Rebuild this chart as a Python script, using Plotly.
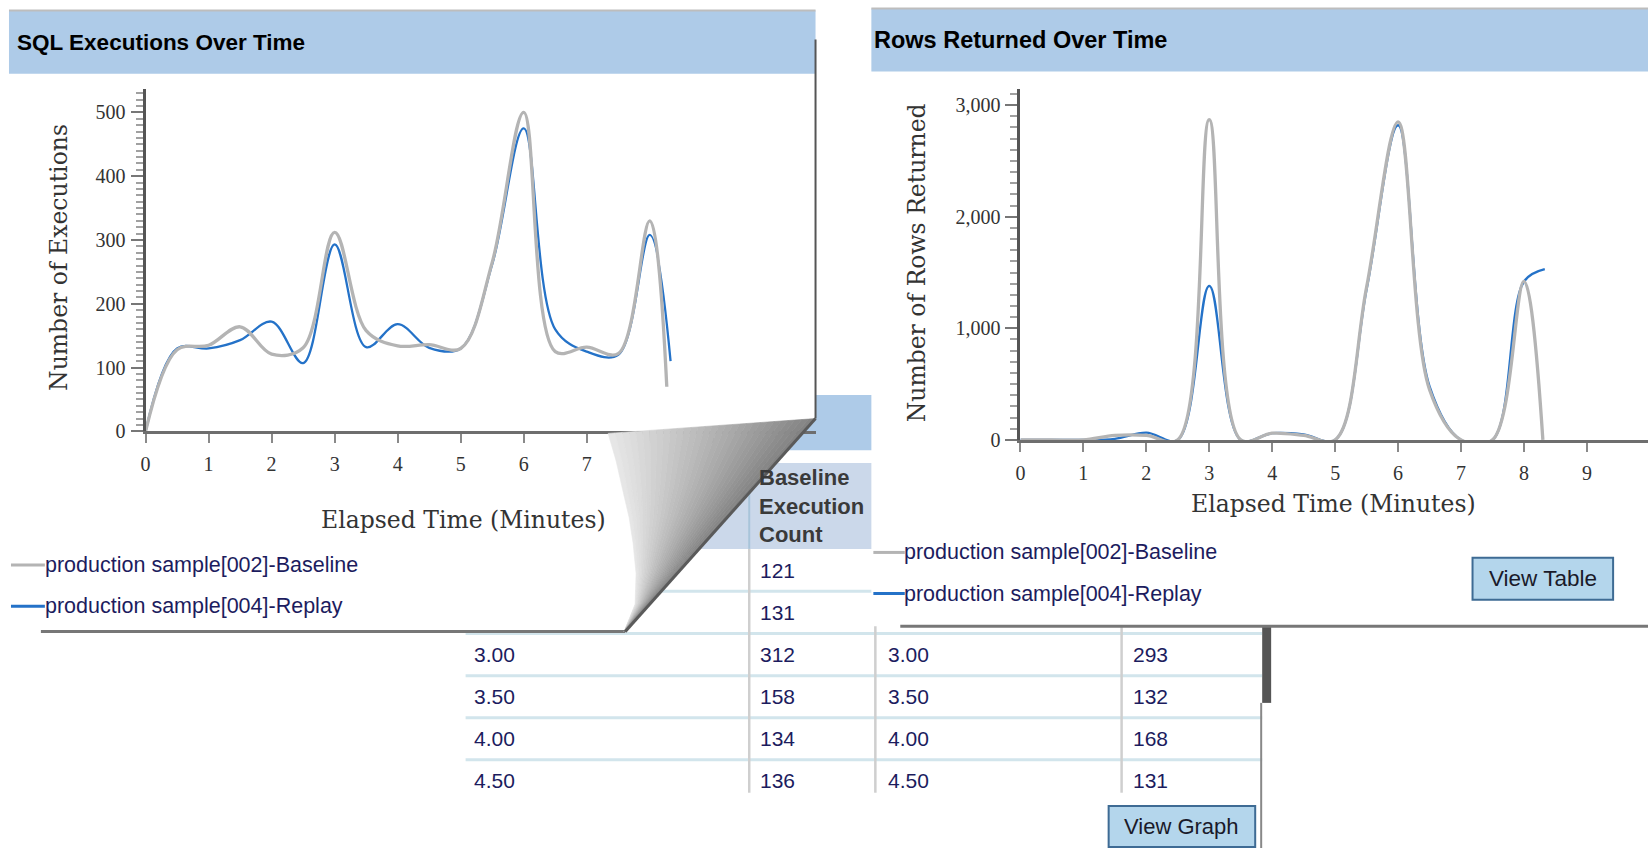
import plotly.graph_objects as go

W, H = 1648, 859

# ---------------- data ----------------
exec_time_base = [0, 0.5, 1.0, 1.5, 2.0, 2.5, 3.0, 3.5, 4.0, 4.5, 5.0, 5.5, 6.0, 6.5, 7.0, 7.5, 8.0, 8.27]
exec_base = [0, 128, 135, 164, 121, 131, 312, 158, 134, 136, 130, 265, 500, 125, 132, 122, 330, 70]
exec_time_rep = [0, 0.5, 1.0, 1.5, 2.0, 2.5, 3.0, 3.5, 4.0, 4.5, 5.0, 5.5, 6.0, 6.5, 7.0, 7.5, 8.0, 8.33]
exec_rep = [0, 130, 130, 143, 172, 107, 293, 132, 168, 131, 130, 262, 475, 160, 125, 120, 308, 110]

rows_time_base = [0, 0.5, 1.0, 1.5, 2.0, 2.5, 3.0, 3.5, 4.0, 4.5, 5.0, 5.5, 6.0, 6.5, 7.0, 7.5, 8.0, 8.3]
rows_base = [0, 0, 0, 40, 40, 0, 2870, 0, 60, 40, 0, 1370, 2850, 450, 0, 0, 1420, 0]
rows_time_rep = [0, 0.5, 1.0, 1.5, 2.0, 2.5, 3.0, 3.5, 4.0, 4.5, 5.0, 5.5, 6.0, 6.5, 7.0, 7.5, 8.0, 8.33]
rows_rep = [0, 0, 0, 10, 65, 0, 1380, 0, 60, 50, 0, 1350, 2820, 480, 0, 0, 1420, 1530]

x_ticks_exec = list(range(0, 11))
x_ticklabels_exec = [str(v) if v <= 7 else "" for v in x_ticks_exec]   # 8-10 hidden by the page curl
x_ticks_rows = list(range(0, 10))

series_names = ["production sample[002]-Baseline", "production sample[004]-Replay"]

# table (visible part) taken from the series
table_base_times = [2.0, 2.5, 3.0, 3.5, 4.0, 4.5]
table_rep_times = [3.0, 3.5, 4.0, 4.5]

# ---------------- styling helpers ----------------
GRAY = "#b4b4b4"
BLUE = "#2472c8"
BAND = "#aecbe8"
NAVY = "#1c1c5e"


def X(px):
    return px / W


def Y(py):
    return 1 - py / H


shapes = []
annotations = []


def rect(x0, y0, x1, y1, fill, lc=None, lw=0, layer="below"):
    shapes.append(dict(type="rect", xref="paper", yref="paper",
                       x0=X(x0), x1=X(x1), y0=Y(y1), y1=Y(y0),
                       fillcolor=fill, line=dict(width=lw, color=lc or fill), layer=layer))


def seg(x0, y0, x1, y1, color, width, layer="below"):
    shapes.append(dict(type="line", xref="paper", yref="paper",
                       x0=X(x0), x1=X(x1), y0=Y(y0), y1=Y(y1),
                       line=dict(color=color, width=width), layer=layer))


def poly(pts, fill, layer="below"):
    path = "M " + " L ".join(f"{X(a):.5f},{Y(b):.5f}" for a, b in pts) + " Z"
    shapes.append(dict(type="path", xref="paper", yref="paper", path=path,
                       fillcolor=fill, line=dict(width=0.6, color=fill), layer=layer))


def text(x, y, s, size, color, family="Liberation Sans", xa="left", ya="middle", angle=0, align="left"):
    annotations.append(dict(xref="paper", yref="paper", x=X(x), y=Y(y), text=s,
                            showarrow=False, xanchor=xa, yanchor=ya, textangle=angle,
                            align=align, font=dict(size=size, color=color, family=family)))


# ---------------- background table ----------------
rect(462, 400, 870, 456, BAND)
rect(462, 469, 870, 556, "#cbd8ea")
seg(746.5, 469, 746.5, 556, "#a8c4da", 2)
row_lines = [599, 641.7, 684.4, 727, 769.6]
for yl in row_lines:
    seg(462, yl, 1261, yl, "#d2e5ec", 3)
for xc in [746.5, 873, 1120]:
    seg(xc, 556, xc, 803, "#cfcfcf", 2.5)
# scrollbar & border
rect(1261, 634, 1270, 712, "#555555")
seg(1260, 712, 1260, 859, "#888888", 2)

row_centers = [577.8, 620.4, 663, 705.7, 748.3, 791]
for i, tt in enumerate(table_base_times):
    v = exec_base[exec_time_base.index(tt)]
    yc = row_centers[i]
    if i >= 2:
        text(468.5, yc, f"{tt:.2f}", 21, NAVY)
    text(755.5, yc, str(v), 21, NAVY)
for tt in table_rep_times:
    v = exec_rep[exec_time_rep.index(tt)]
    yc = row_centers[table_base_times.index(tt)]
    text(883.5, yc, f"{tt:.2f}", 21, NAVY)
    text(1129.5, yc, str(v), 21, NAVY)
text(754, 513, "<b>Baseline<br>Execution<br>Count</b>", 22, "#3a3a3a")

# View Graph button
rect(1107, 816.5, 1254, 858, "#b4d6ec", "#3e6b94", 2)
text(1180.5, 837, "View Graph", 22, "#1a1a2a", xa="center")

# ---------------- left panel ----------------
poly([(4, 10.7), (813, 10.7), (813, 424), (621, 640), (4, 640)], "white")
rect(4, 10.7, 813, 74.6, BAND)
seg(4, 10.7, 813, 10.7, "#bdbdbd", 2)
seg(813, 40, 813, 424, "#555555", 2)
seg(36, 639.6, 622, 639.6, "#777777", 3)
text(10, 42.6, "<b>SQL Executions Over Time</b>", 22.5, "black")
text(53.4, 261, "Number of Executions", 23.5, "#333333", family="DejaVu Serif", xa="center", angle=-90)
text(459.5, 526.6, "Elapsed Time (Minutes)", 23.5, "#333333", family="DejaVu Serif", xa="center")
seg(6, 572.4, 40, 572.4, GRAY, 3)
seg(6, 614, 40, 614, BLUE, 3)
text(37.7, 572.4, series_names[0], 21.5, NAVY)
text(37.7, 614, series_names[1], 21.5, NAVY)

# ---------------- right panel ----------------
rect(869, 8.5, 1648, 634.3, "white")
rect(869, 8.5, 1648, 72.5, BAND)
seg(869, 8.5, 1648, 8.5, "#bdbdbd", 2)
seg(898, 634.3, 1648, 634.3, "#777777", 3)
text(870, 40.5, "<b>Rows Returned Over Time</b>", 23.5, "black")
text(915, 266.5, "Number of Rows Returned", 23.5, "#333333", family="DejaVu Serif", xa="center", angle=-90)
text(1333, 510.6, "Elapsed Time (Minutes)", 23.5, "#333333", family="DejaVu Serif", xa="center")
seg(871, 559.6, 902.5, 559.6, GRAY, 3)
seg(871, 601.2, 902.5, 601.2, BLUE, 3)
text(900, 559.6, series_names[0], 21.5, NAVY)
text(900, 601.2, series_names[1], 21.5, NAVY)
rect(1472, 565, 1613, 607.6, "#b4d6ec", "#3e6b94", 2)
text(1542.5, 586.3, "View Table", 22.5, "#1a1a2a", xa="center")

# ---------------- page curl ----------------
left_edge = [(605, 439), (613, 467), (620, 498), (626, 524), (630, 550), (633, 581), (632, 612), (621, 640)]
n = len(left_edge)
tip = left_edge[-1]
top_right = (813, 424)
right_edge = [(top_right[0] + (tip[0] - top_right[0]) * i / (n - 1),
               top_right[1] + (tip[1] - top_right[1]) * i / (n - 1)) for i in range(n)]
nb = 30
c0, c1 = (232, 232, 232), (130, 130, 130)
for b in range(nb):
    f0, f1 = b / nb, (b + 1) / nb
    col = tuple(int(c0[k] + (c1[k] - c0[k]) * (b + 0.5) / nb) for k in range(3))
    a = [(l[0] + (r[0] - l[0]) * f0, l[1] + (r[1] - l[1]) * f0) for l, r in zip(left_edge, right_edge)]
    c = [(l[0] + (r[0] - l[0]) * f1, l[1] + (r[1] - l[1]) * f1) for l, r in zip(left_edge, right_edge)]
    poly(a + c[::-1], "rgb(%d,%d,%d)" % col, layer="above")
seg(top_right[0], top_right[1], tip[0] + 1, tip[1], "#5a5a5a", 3, layer="above")

# ---------------- traces ----------------
fig = go.Figure()
fig.add_trace(go.Scatter(x=exec_time_rep, y=exec_rep, mode="lines", name=series_names[1],
                         line=dict(color=BLUE, width=2.3, shape="spline", smoothing=1),
                         xaxis="x", yaxis="y", hoverinfo="skip"))
fig.add_trace(go.Scatter(x=exec_time_base, y=exec_base, mode="lines", name=series_names[0],
                         line=dict(color=GRAY, width=3.3, shape="spline", smoothing=1),
                         xaxis="x", yaxis="y", hoverinfo="skip"))
fig.add_trace(go.Scatter(x=rows_time_rep, y=rows_rep, mode="lines", name=series_names[1],
                         line=dict(color=BLUE, width=2.3, shape="spline", smoothing=1),
                         xaxis="x2", yaxis="y2", hoverinfo="skip"))
fig.add_trace(go.Scatter(x=rows_time_base, y=rows_base, mode="lines", name=series_names[0],
                         line=dict(color=GRAY, width=3.3, shape="spline", smoothing=1),
                         xaxis="x2", yaxis="y2", hoverinfo="skip"))

tickfont = dict(family="Liberation Serif", size=20, color="#333333")
xcommon = dict(showline=True, linecolor="#6e6e6e", linewidth=3, ticks="outside", ticklen=9,
               tickwidth=2, tickcolor="#8a8a8a", tickfont=tickfont, ticklabelstandoff=4,
               showgrid=False, zeroline=False, fixedrange=True)
ycommon = dict(showline=True, linecolor="#555555", linewidth=3, ticks="outside", ticklen=12,
               tickwidth=2, tickcolor="#777777", tickfont=tickfont, ticklabelstandoff=1,
               showgrid=False, zeroline=False, fixedrange=True)

fig.update_layout(
    width=W, height=H, autosize=False,
    margin=dict(l=0, r=0, t=0, b=0),
    paper_bgcolor="white", plot_bgcolor="rgba(0,0,0,0)",
    showlegend=False,
    xaxis=dict(domain=[X(141), X(813)], range=[0, 10.63], anchor="y",
               tickvals=x_ticks_exec, ticktext=x_ticklabels_exec, **xcommon),
    yaxis=dict(domain=[Y(437), Y(90.6)], range=[0, 536], anchor="x", dtick=100,
               minor=dict(dtick=10, ticks="outside", ticklen=7, tickwidth=2, tickcolor="#a0a0a0"),
               **ycommon),
    xaxis2=dict(domain=[X(1018.5), 1], range=[0, 9.97], anchor="y2", tickvals=x_ticks_rows, **xcommon),
    yaxis2=dict(domain=[Y(445.6), Y(90.6)], range=[0, 3141], anchor="x2", dtick=1000, tickformat=",d",
                minor=dict(dtick=100, ticks="outside", ticklen=7, tickwidth=2, tickcolor="#a0a0a0"),
                **ycommon),
    shapes=shapes,
    annotations=annotations,
)

fig.write_html("out.html", config={"displayModeBar": False},
               post_script="document.body.style.margin='0';")
